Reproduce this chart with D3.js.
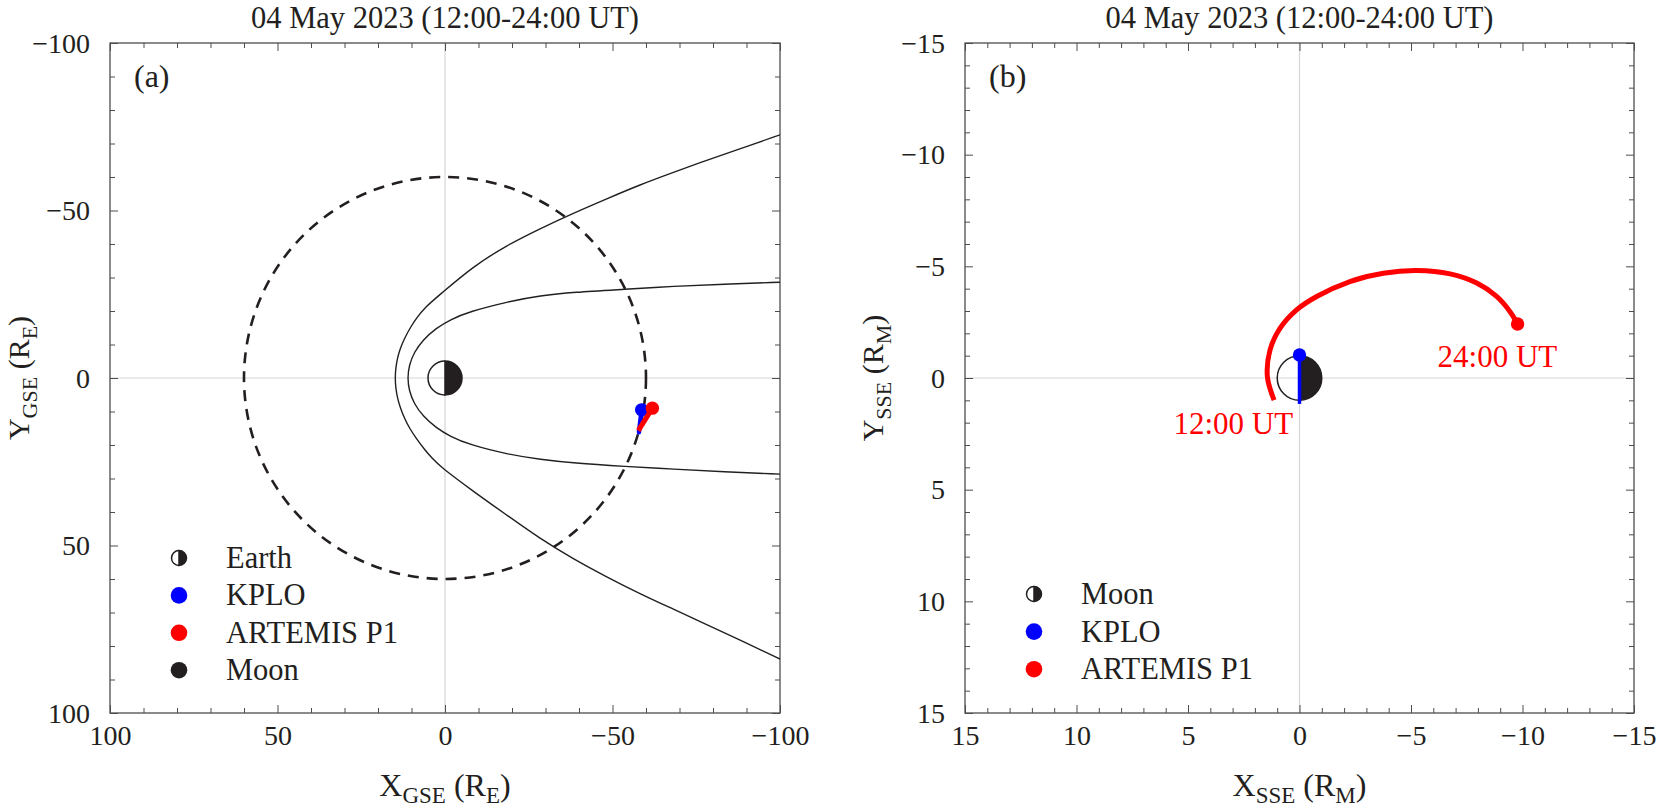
<!DOCTYPE html>
<html><head><meta charset="utf-8">
<script src="https://cdn.jsdelivr.net/npm/d3@7"></script>
<style>
html,body{margin:0;padding:0;background:#fff;}
svg{display:block;font-family:"Liberation Serif","Times New Roman",serif;}
</style></head>
<body><svg id="chart" width="1657" height="810"></svg>
<script>
// ---------------- data ----------------
const titleText = "04 May 2023 (12:00-24:00 UT)";

// panel (a) GSE, Earth radii
const xTicksA = [100, 50, 0, -50, -100];
const yTicksA = [-100, -50, 0, 50, 100];
const minorStepA = 10;
const lunarOrbitRadius = 60;
const magnetopause = [
  [-100,-28.6],[-83.1,-28.0],[-68.2,-27.4],[-53.9,-26.5],[-38.3,-25.6],[-28.4,-24.6],
  [-19.2,-22.9],[-7.2,-19.8],[-1.5,-17.4],[2.6,-14.9],[6.6,-11.4],[9.2,-7.7],[10.7,-3.9],[11.2,0],
  [10.7,3.9],[9.2,7.7],[6.6,11.4],[2.6,14.9],[-1.5,17.4],[-7.2,19.9],[-19.2,22.9],[-28.4,24.3],
  [-38.3,25.4],[-53.9,26.4],[-68.2,27.2],[-83.1,28.0],[-100,28.7]
];
const bowShock = [
  [-100,-72.6],[-88.1,-68.4],[-78.1,-65.0],[-68.2,-61.4],[-58.2,-57.7],[-48.3,-53.5],
  [-38.3,-49.2],[-28.4,-44.6],[-18.4,-39.6],[-8.4,-33.3],[1.5,-24.9],[6.1,-21.0],[8.4,-18.0],
  [10.4,-15.0],[12.0,-12.0],[13.3,-9.0],[14.2,-6.0],[14.7,-3.0],[14.9,0],[14.7,3.0],[14.2,6.0],
  [13.3,9.0],[12.1,12.0],[10.6,15.0],[8.6,18.0],[6.0,21.5],[3.8,24.0],[1.5,26.4],[-8.4,33.8],
  [-18.4,40.9],[-28.4,48.0],[-38.3,54.0],[-48.3,59.4],[-58.2,64.4],[-68.2,69.0],
  [-78.1,73.6],[-88.1,78.2],[-100,83.9]
];
const earthGSE = [0, 0];
const moonGSE = [-58.7, 9.5];
const kploGSE = [[-57.9,16.2],[-58.7,9.5]];
const artemisGSE = [[-57.7,15.7],[-61.9,9.0]];
const legendA = ["Earth","KPLO","ARTEMIS P1","Moon"];

// panel (b) SSE, Moon radii
const xTicksB = [15, 10, 5, 0, -5, -10, -15];
const yTicksB = [-15, -10, -5, 0, 5, 10, 15];
const minorStepB = 1;
const moonSSE = [0, 0];
const moonRadiusRM = 1;
const kploSSE = [[0.0,1.16],[0.0,-1.03]];
const artemisSSE = [
  [1.14,0.99],[1.44,-0.06],[1.32,-1.26],[0.87,-2.23],[0.13,-3.05],[-0.77,-3.65],
  [-2.26,-4.32],[-3.76,-4.69],[-5.26,-4.81],[-6.75,-4.66],[-7.95,-4.25],[-8.84,-3.65],
  [-9.44,-2.97],[-9.78,-2.42]
];
const legendB = ["Moon","KPLO","ARTEMIS P1"];
const startLabel = "12:00 UT";
const endLabel = "24:00 UT";

// ---------------- styles ----------------
const INK = "#231f20", BLUE = "#0000ff", RED = "#ff0000", AXIS = "#4d4d4d", GRID = "#d6d6d6";
const plotTop = 43, plotBottom = 713;
const svg = d3.select("#chart");
const fmt = d => d < 0 ? "\u2212" + Math.abs(d) : String(d);

function range(a, b, s){ const out=[]; const lo=Math.min(a,b), hi=Math.max(a,b); for(let v=lo; v<=hi+1e-9; v+=s) out.push(+v.toFixed(6)); return out; }

function panel(cfg){
  const x = d3.scaleLinear().domain(cfg.xDom).range([cfg.left, cfg.right]);
  const y = d3.scaleLinear().domain(cfg.yDom).range([plotTop, plotBottom]);
  const g = svg.append("g");
  const clipId = "clip" + cfg.id;
  svg.append("clipPath").attr("id", clipId).append("rect")
    .attr("x", cfg.left).attr("y", plotTop).attr("width", cfg.right-cfg.left).attr("height", plotBottom-plotTop);

  // zero lines
  g.append("line").attr("x1", x(0)).attr("x2", x(0)).attr("y1", plotTop).attr("y2", plotBottom)
    .attr("stroke", GRID).attr("stroke-width", 1.2);
  g.append("line").attr("y1", y(0)).attr("y2", y(0)).attr("x1", cfg.left).attr("x2", cfg.right)
    .attr("stroke", GRID).attr("stroke-width", 1.2);

  // ticks
  const minor = range(cfg.xDom[0], cfg.xDom[1], cfg.minor);
  const minorY = range(cfg.yDom[0], cfg.yDom[1], cfg.minor);
  const addAxis = (gen, tr) => {
    const a = g.append("g").attr("transform", tr).call(gen);
    a.select(".domain").remove();
    a.selectAll("line").attr("stroke", AXIS).attr("stroke-width", 1);
    return a;
  };
  const isMajorX = v => cfg.xTicks.includes(v);
  const isMajorY = v => cfg.yTicks.includes(v);
  addAxis(d3.axisBottom(x).tickValues(minor.filter(v=>!isMajorX(v))).tickSize(-5).tickFormat(""), `translate(0,${plotBottom})`);
  addAxis(d3.axisTop(x).tickValues(minor.filter(v=>!isMajorX(v))).tickSize(-5).tickFormat(""), `translate(0,${plotTop})`);
  addAxis(d3.axisLeft(y).tickValues(minorY.filter(v=>!isMajorY(v))).tickSize(-5).tickFormat(""), `translate(${cfg.left},0)`);
  addAxis(d3.axisRight(y).tickValues(minorY.filter(v=>!isMajorY(v))).tickSize(-5).tickFormat(""), `translate(${cfg.right},0)`);
  addAxis(d3.axisTop(x).tickValues(cfg.xTicks).tickSize(-8).tickFormat(""), `translate(0,${plotTop})`);
  addAxis(d3.axisRight(y).tickValues(cfg.yTicks).tickSize(-8).tickFormat(""), `translate(${cfg.right},0)`);
  const ax = addAxis(d3.axisBottom(x).tickValues(cfg.xTicks).tickSize(-8).tickPadding(12).tickFormat(fmt), `translate(0,${plotBottom})`);
  ax.attr("font-family", null).attr("font-size", null);
  ax.selectAll("text").attr("fill", INK).style("font-size", "28px");
  const ay = addAxis(d3.axisLeft(y).tickValues(cfg.yTicks).tickSize(-8).tickPadding(20).tickFormat(fmt), `translate(${cfg.left},0)`);
  ay.attr("font-family", null).attr("font-size", null);
  ay.selectAll("text").attr("fill", INK).style("font-size", "28px").attr("dy", "0.33em");

  // border
  g.append("rect").attr("x", cfg.left).attr("y", plotTop).attr("width", cfg.right-cfg.left).attr("height", plotBottom-plotTop)
    .attr("fill", "none").attr("stroke", AXIS).attr("stroke-width", 1.3);

  // title
  svg.append("text").attr("x", (cfg.left+cfg.right)/2).attr("y", 28).attr("text-anchor", "middle")
    .attr("fill", INK).style("font-size", "30.5px").text(titleText);
  // panel letter
  svg.append("text").attr("x", cfg.left+24).attr("y", 87).attr("fill", INK).style("font-size", "32px").text(cfg.letter);

  // x label
  const xl = svg.append("text").attr("x", (cfg.left+cfg.right)/2).attr("y", 796).attr("text-anchor", "middle")
    .attr("fill", INK).style("font-size", "32px");
  xl.append("tspan").text("X");
  xl.append("tspan").attr("dy", 7).style("font-size", "23px").text(cfg.frame);
  xl.append("tspan").attr("dy", -7).text(" (R");
  xl.append("tspan").attr("dy", 7).style("font-size", "23px").text(cfg.unit);
  xl.append("tspan").attr("dy", -7).text(")");
  // y label
  const yl = svg.append("text").attr("transform", `translate(${cfg.ylx},${(plotTop+plotBottom)/2}) rotate(-90)`)
    .attr("text-anchor", "middle").attr("fill", INK).style("font-size", "30px");
  yl.append("tspan").text("Y");
  yl.append("tspan").attr("dy", 8).style("font-size", "22px").text(cfg.frame);
  yl.append("tspan").attr("dy", -8).text(" (R");
  yl.append("tspan").attr("dy", 8).style("font-size", "22px").text(cfg.unit);
  yl.append("tspan").attr("dy", -8).text(")");

  const plot = g.append("g").attr("clip-path", `url(#${clipId})`);
  return {x, y, g, plot};
}

function halfDisk(parent, cx, cy, r, sw){
  const grp = parent.append("g");
  grp.append("path").attr("d", `M${cx},${cy-r} A${r},${r} 0 0 0 ${cx},${cy+r}`)
    .attr("fill", "none").attr("stroke", INK).attr("stroke-width", sw);
  grp.append("path").attr("d", `M${cx},${cy-r} A${r},${r} 0 0 1 ${cx},${cy+r} Z`)
    .attr("fill", INK).attr("stroke", INK).attr("stroke-width", sw);
  return grp;
}

function legend(parent, items, x0, y0, step, kinds){
  items.forEach((name, i) => {
    const cy = y0 + i*step;
    const k = kinds[i];
    if (k === "half") halfDisk(parent, x0, cy, 7.5, 1.5);
    else parent.append("circle").attr("cx", x0).attr("cy", cy).attr("r", 8.3).attr("fill", k);
    parent.append("text").attr("x", x0+47).attr("y", cy+10).attr("fill", INK).style("font-size", "30.5px").text(name);
  });
}

// ---------------- panel (a) ----------------
const A = panel({id:"a", left:110, right:780, xDom:[100,-100], yDom:[-100,100], xTicks:xTicksA, yTicks:yTicksA,
  minor:minorStepA, letter:"(a)", frame:"GSE", unit:"E", ylx:29});
{
  const {x, y, plot} = A;
  const line = d3.line().x(d=>x(d[0])).y(d=>y(d[1])).curve(d3.curveBasis);
  plot.append("path").attr("d", line(bowShock)).attr("fill","none").attr("stroke",INK).attr("stroke-width",1.4);
  plot.append("path").attr("d", line(magnetopause)).attr("fill","none").attr("stroke",INK).attr("stroke-width",1.4);
  plot.append("circle").attr("cx", x(0)).attr("cy", y(0)).attr("r", Math.abs(x(lunarOrbitRadius)-x(0)))
    .attr("fill","none").attr("stroke",INK).attr("stroke-width",2.6).attr("stroke-dasharray","11 8");
  halfDisk(plot, x(earthGSE[0]), y(earthGSE[1]), 17, 1.5);
  plot.append("circle").attr("cx", x(moonGSE[0])).attr("cy", y(moonGSE[1])).attr("r", 6).attr("fill", INK);
  const lin = d3.line().x(d=>x(d[0])).y(d=>y(d[1]));
  plot.append("path").attr("d", lin(kploGSE)).attr("fill","none").attr("stroke",BLUE).attr("stroke-width",4.5).attr("stroke-linecap","round");
  plot.append("circle").attr("cx", x(kploGSE[1][0])).attr("cy", y(kploGSE[1][1])).attr("r", 6.7).attr("fill", BLUE);
  plot.append("path").attr("d", lin(artemisGSE)).attr("fill","none").attr("stroke",RED).attr("stroke-width",5).attr("stroke-linecap","butt");
  plot.append("circle").attr("cx", x(artemisGSE[1][0])).attr("cy", y(artemisGSE[1][1])).attr("r", 6.7).attr("fill", RED);
  legend(A.g, legendA, 179, 558, 37.4, ["half", BLUE, RED, INK]);
}

// ---------------- panel (b) ----------------
const B = panel({id:"b", left:965, right:1634, xDom:[15,-15], yDom:[-15,15], xTicks:xTicksB, yTicks:yTicksB,
  minor:minorStepB, letter:"(b)", frame:"SSE", unit:"M", ylx:883});
{
  const {x, y, plot} = B;
  const rPx = Math.abs(x(moonRadiusRM)-x(0));
  halfDisk(plot, x(moonSSE[0]), y(moonSSE[1]), rPx, 1.5);
  const lin = d3.line().x(d=>x(d[0])).y(d=>y(d[1]));
  plot.append("path").attr("d", lin(kploSSE)).attr("fill","none").attr("stroke",BLUE).attr("stroke-width",3.5);
  plot.append("circle").attr("cx", x(kploSSE[1][0])).attr("cy", y(kploSSE[1][1])).attr("r", 6.7).attr("fill", BLUE);
  const crv = d3.line().x(d=>x(d[0])).y(d=>y(d[1])).curve(d3.curveCatmullRom);
  plot.append("path").attr("d", crv(artemisSSE)).attr("fill","none").attr("stroke",RED).attr("stroke-width",5);
  const last = artemisSSE[artemisSSE.length-1], first = artemisSSE[0];
  plot.append("circle").attr("cx", x(last[0])).attr("cy", y(last[1])).attr("r", 6.7).attr("fill", RED);
  B.g.append("text").attr("x", x(first[0])+19).attr("y", y(first[1])+34).attr("text-anchor","end")
    .attr("fill", RED).style("font-size","31px").text(startLabel);
  B.g.append("text").attr("x", x(last[0])-80).attr("y", y(last[1])+43).attr("text-anchor","start")
    .attr("fill", RED).style("font-size","31px").text(endLabel);
  legend(B.g, legendB, 1034, 594, 37.6, ["half", BLUE, RED]);
}
</script></body></html>
